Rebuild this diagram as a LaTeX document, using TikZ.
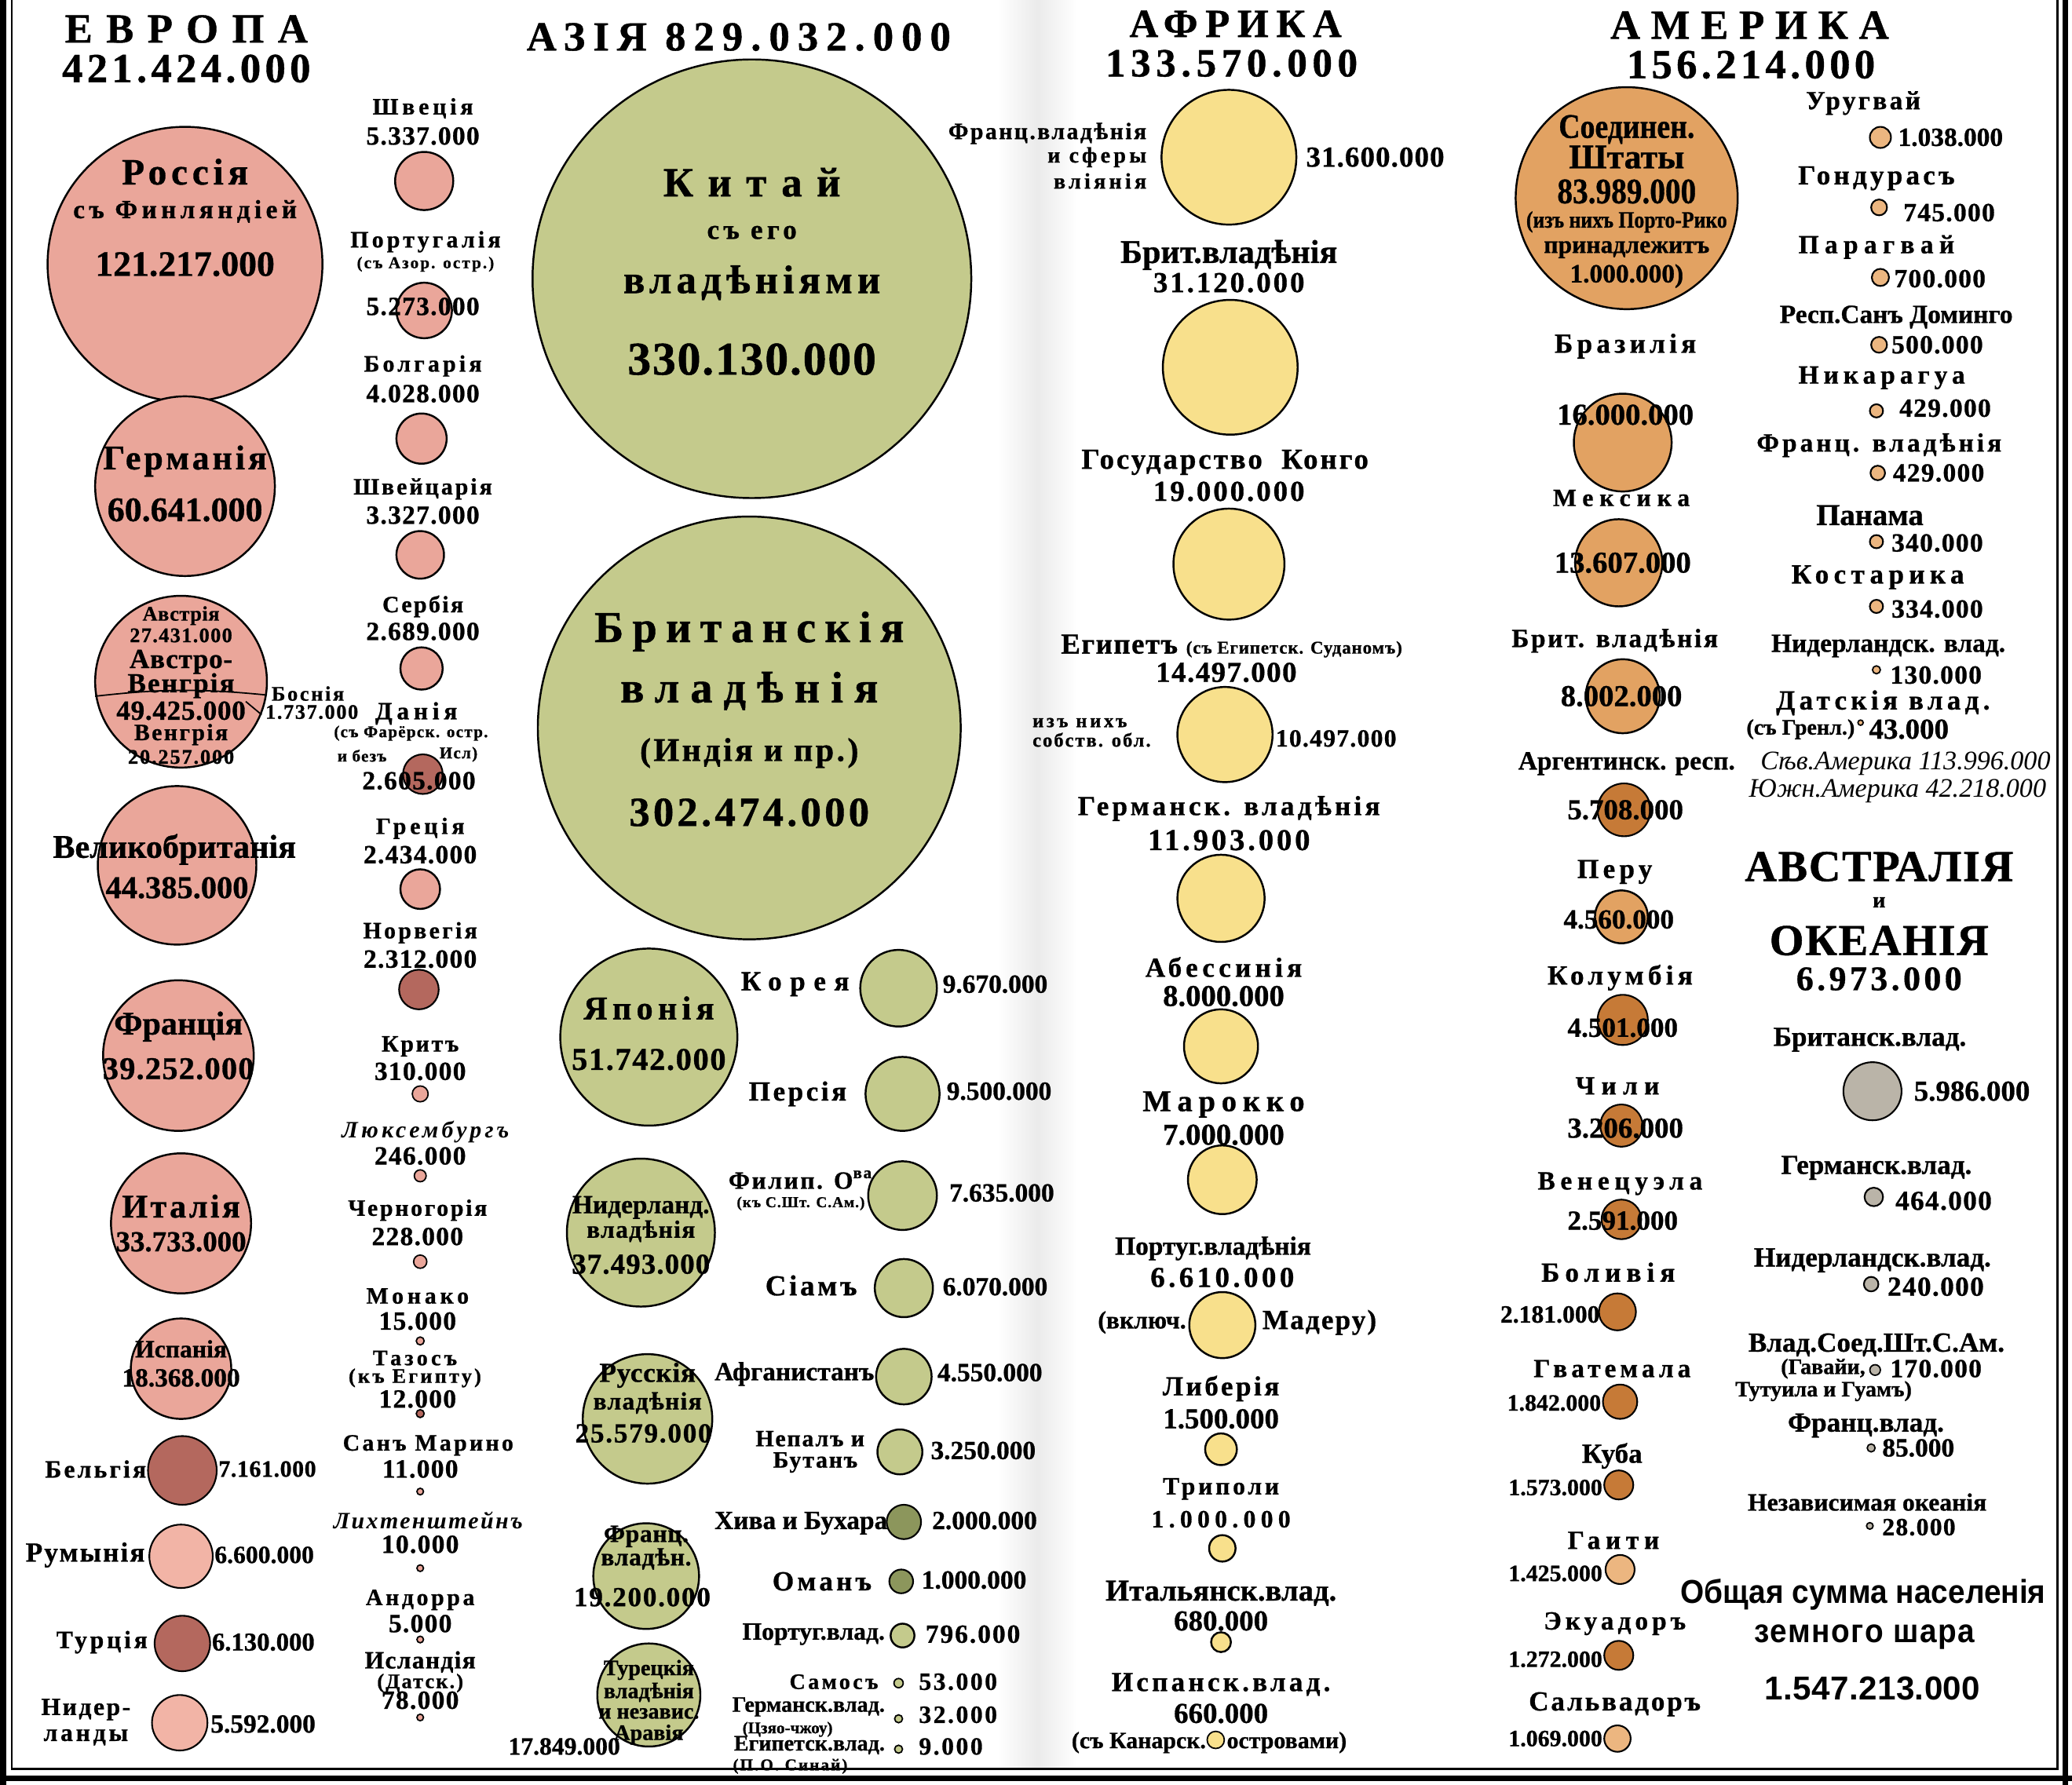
\documentclass[tikz,border=0pt]{standalone}
\usepackage{fontspec}
\usepackage{graphicx}
\usepackage{xcolor}
\usepackage{tikz}
\setmainfont{Liberation Serif}[BoldFeatures={FakeBold=0.8}]
\newfontfamily\sansf{Liberation Sans}

\definecolor{eupink}{RGB}{234,166,154}
\definecolor{eudark}{RGB}{180,104,94}
\definecolor{eulight}{RGB}{242,180,166}
\definecolor{asgreen}{RGB}{196,202,140}
\definecolor{asdark}{RGB}{140,150,92}
\definecolor{afyellow}{RGB}{248,224,140}
\definecolor{amorange}{RGB}{226,162,98}
\definecolor{amdark}{RGB}{198,122,55}
\definecolor{amlight}{RGB}{236,182,128}
\definecolor{augray}{RGB}{186,180,168}

\newcommand\ft[2]{\fontsize{#1}{#1}\selectfont\addfontfeature{LetterSpace=#2}}
\newcommand\cnd[1]{\scalebox{0.86}[1]{#1}}

\tikzset{
	every node/.style={inner sep=0pt, font=\bfseries},
	eu/.style={fill=eupink, draw=black, line width=0.7pt},
	eud/.style={fill=eudark, draw=black, line width=0.6pt},
	eul/.style={fill=eulight, draw=black, line width=0.6pt},
	as/.style={fill=asgreen, draw=black, line width=0.7pt},
	asd/.style={fill=asdark, draw=black, line width=0.6pt},
	af/.style={fill=afyellow, draw=black, line width=0.7pt},
	am/.style={fill=amorange, draw=black, line width=0.7pt},
	amd/.style={fill=amdark, draw=black, line width=0.6pt},
	aml/.style={fill=amlight, draw=black, line width=0.6pt},
	au/.style={fill=augray, draw=black, line width=0.6pt},
}

\begin{document}
\begin{tikzpicture}[x=0.01683cm, y=-0.01683cm]
	\useasboundingbox (0,0) rectangle (1568,1351);
	\shade[left color=white, right color=black!8] (755,0) rectangle (785,1339);
	\shade[left color=black!8, right color=white] (785,0) rectangle (815,1339);
	\draw[line width=2.4pt] (2.5,0) -- (2.5,1351);
	\draw[line width=0.7pt] (9,0) -- (9,1339) -- (1557,1339) -- (1557,0);
	\draw[line width=2pt] (0,1346) -- (1568,1346);
	\draw[line width=1.8pt] (1563,0) -- (1563,1351);

	\node (euh) at (141,22) {\ft{15}{33}ЕВРОПА};
	\node (eun) at (141,52) {\ft{15}{10}421.424.000};
	\node (ash) at (559,28) {\ft{15}{19}АЗІЯ 829.032.000};
	\node (afh) at (935,18) {\ft{14.5}{19}АФРИКА};
	\node (afn) at (932,48) {\ft{14.5}{13}133.570.000};
	\node (amh) at (1324,19) {\ft{15}{26}АМЕРИКА};
	\node (amn) at (1325,49) {\ft{15}{10}156.214.000};

	\filldraw[eu] (140,200) circle (104);
	\node (rus) at (140,130) {\ft{13.5}{12}Россія};
	\node (rusf) at (140,160) {\ft{9.5}{16}съ Финляндіей};
	\node (rusn) at (140,200) {\ft{13}{0}121.217.000};
	\filldraw[eu] (140,368) circle (68);
	\node (ger) at (140,349) {\ft{12.5}{9}Германія};
	\node (gern) at (140,386) {\ft{12.5}{0}60.641.000};
	\filldraw[eu] (137,516) circle (65);
	\draw[line width=0.5pt] (72,527) to[bend left=6] (201,526);
	\draw[line width=0.5pt] (186,531) -- (198,541);
	\node (aut) at (137,466) {\ft{7.5}{2}Австрія};
	\node (autn) at (137,481) {\ft{7.5}{5}27.431.000};
	\node (auh) at (137,501) {\ft{10}{2}Австро-};
	\node (auha) at (137,519) {\ft{10}{6}Венгрія};
	\node (auhn) at (137,538) {\ft{10}{2}49.425.000};
	\node (hun) at (137,556) {\ft{8.5}{8}Венгрія};
	\node (hunn) at (137,573) {\ft{7.5}{7}20.257.000};
	\node (bos) at (233,525) {\ft{7.5}{10}Боснія};
	\node (bosn) at (236,539) {\ft{7.5}{6}1.737.000};
	\filldraw[eu] (134,655) circle (60);
	\node (gb) at (132,643) {\ft{12}{0}Великобританія};
	\node (gbn) at (134,672) {\ft{11.5}{0}44.385.000};
	\filldraw[eu] (135,799) circle (57);
	\node (fra) at (135,777) {\ft{12}{0}Франція};
	\node (fran) at (135,809) {\ft{11.5}{3}39.252.000};
	\filldraw[eu] (137,926) circle (53);
	\node (ita) at (137,913) {\ft{12}{8}Италія};
	\node (itan) at (137,940) {\ft{10.5}{0}33.733.000};
	\filldraw[eu] (137,1036) circle (38);
	\node (spa) at (137,1021) {\ft{9}{0}Испанія};
	\node (span) at (137,1043) {\ft{9.5}{0}18.368.000};
	\filldraw[eud] (138,1113) circle (26);
	\node[anchor=east] (bel) at (111,1112) {\ft{9}{10}Бельгія};
	\node[anchor=west] (beln) at (165,1112) {\ft{8.5}{2}7.161.000};
	\filldraw[eul] (137,1178) circle (24);
	\node[anchor=east] (rom) at (110,1177) {\ft{10}{6}Румынія};
	\node[anchor=west] (romn) at (162,1177) {\ft{9}{0}6.600.000};
	\filldraw[eud] (138,1244) circle (21);
	\node[anchor=east] (tur) at (112,1243) {\ft{9}{12}Турція};
	\node[anchor=west] (turn) at (160,1243) {\ft{9.3}{0}6.130.000};
	\filldraw[eul] (136,1304) circle (21);
	\node (nl) at (65,1294) {\ft{9}{8}Нидер-};
	\node (nlb) at (65,1315) {\ft{9}{12}ланды};
	\node[anchor=west] (nln) at (159,1305) {\ft{9.5}{0}5.592.000};

	\filldraw[eu] (321,137) circle (22);
	\node (swe) at (320,82) {\ft{8.5}{16}Швеція};
	\node (swen) at (320,103) {\ft{9.5}{4}5.337.000};
	\filldraw[eu] (321,235) circle (21);
	\node (por) at (322,183) {\ft{8.5}{14}Португалія};
	\node (porb) at (322,200) {\ft{6}{10}(съ Азор. остр.)};
	\node (porn) at (320,232) {\ft{9.5}{4}5.273.000};
	\filldraw[eu] (319,332) circle (19);
	\node (bul) at (320,277) {\ft{8.5}{14}Болгарія};
	\node (buln) at (320,298) {\ft{9.5}{4}4.028.000};
	\filldraw[eu] (318,420) circle (18);
	\node (sui) at (320,370) {\ft{8.5}{10}Швейцарія};
	\node (suin) at (320,390) {\ft{9.5}{4}3.327.000};
	\filldraw[eu] (319,506) circle (16);
	\node (ser) at (320,459) {\ft{8.5}{8}Сербія};
	\node (sern) at (320,478) {\ft{9.5}{4}2.689.000};
	\filldraw[eud] (320,586) circle (15);
	\node (den) at (315,540) {\ft{9}{18}Данія};
	\node (denb) at (311,555) {\ft{6}{6}(съ Фарёрск. остр.};
	\node (denc) at (274,572) {\ft{6}{6}и безъ};
	\node (dend) at (347,571) {\ft{6}{6}Исл)};
	\node (denn) at (317,591) {\ft{9.5}{4}2.605.000};
	\filldraw[eu] (318,673) circle (15);
	\node (gre) at (318,627) {\ft{8.5}{16}Греція};
	\node (gren) at (318,647) {\ft{9.5}{4}2.434.000};
	\filldraw[eud] (317,749) circle (15);
	\node (nor) at (318,706) {\ft{8.5}{11}Норвегія};
	\node (norn) at (318,726) {\ft{9.5}{4}2.312.000};
	\filldraw[eu, line width=0.5pt] (318,828) circle (6);
	\node (cre) at (318,792) {\ft{8.5}{9}Критъ};
	\node (cren) at (318,811) {\ft{9.5}{4}310.000};
	\filldraw[eu, line width=0.5pt] (318,890) circle (4.5);
	\node (lux) at (322,857) {\ft{8.5}{14}\itshape Люксембургъ};
	\node (luxn) at (318,875) {\ft{9.5}{4}246.000};
	\filldraw[eu, line width=0.5pt] (318,955) circle (5);
	\node (mne) at (316,916) {\ft{8.5}{9}Черногорія};
	\node (mnen) at (316,936) {\ft{9.5}{4}228.000};
	\filldraw[eu, line width=0.5pt] (318,1015) circle (3);
	\node (mon) at (316,981) {\ft{8.5}{16}Монако};
	\node (monn) at (316,1000) {\ft{9.5}{4}15.000};
	\filldraw[eud, line width=0.5pt] (318,1070) circle (3);
	\node (tha) at (314,1028) {\ft{8}{15}Тазосъ};
	\node (thab) at (314,1043) {\ft{7.5}{12}(къ Египту)};
	\node (than) at (316,1059) {\ft{9.5}{4}12.000};
	\filldraw[eu, line width=0.5pt] (318,1129) circle (2.5);
	\node (smr) at (324,1094) {\ft{8.5}{11}Санъ Марино};
	\node (smrn) at (318,1112) {\ft{9.5}{4}11.000};
	\filldraw[eu, line width=0.5pt] (318,1187) circle (2.5);
	\node (lie) at (324,1151) {\ft{8.5}{8}\itshape Лихтенштейнъ};
	\node (lien) at (318,1169) {\ft{9.5}{4}10.000};
	\filldraw[eu, line width=0.5pt] (318,1241) circle (2.5);
	\node (and) at (318,1211) {\ft{8.5}{12}Андорра};
	\node (andn) at (318,1229) {\ft{9.5}{4}5.000};
	\filldraw[eu, line width=0.5pt] (318,1300) circle (2.5);
	\node (isl) at (318,1258) {\ft{9}{4}Исландія};
	\node (islb) at (318,1274) {\ft{7.5}{8}(Датск.)};
	\node (isln) at (318,1287) {\ft{9.5}{4}78.000};

	\filldraw[as] (569,211) circle (166);
	\node (chn) at (569,138) {\ft{15}{35}Китай};
	\node (chnb) at (569,176) {\ft{10}{15}съ его};
	\node (chnc) at (569,214) {\ft{14.5}{12}владѣніями};
	\node (chnn) at (569,272) {\ft{17}{3}330.130.000};
	\filldraw[as] (567,551) circle (160);
	\node (bri) at (567,478) {\ft{16}{20}Британскія};
	\node (brib) at (567,523) {\ft{16}{25}владѣнія};
	\node (bric) at (567,570) {\ft{12}{8}(Индія и пр.)};
	\node (brin) at (567,615) {\ft{15}{8}302.474.000};
	\filldraw[as] (491,785) circle (67);
	\node (jap) at (491,763) {\ft{12}{15}Японія};
	\node (japn) at (491,802) {\ft{11.5}{4}51.742.000};
	\filldraw[as] (485,933) circle (56);
	\node (dut) at (485,914) {\ft{9.5}{0}Нидерланд.};
	\node (dutb) at (485,932) {\ft{9}{4}владѣнія};
	\node (dutn) at (485,957) {\ft{10.5}{3}37.493.000};
	\filldraw[as] (490,1074) circle (49);
	\node (rsa) at (490,1041) {\ft{10}{2}Русскія};
	\node (rsab) at (490,1062) {\ft{9}{4}владѣнія};
	\node (rsan) at (487,1085) {\ft{10}{5}25.579.000};
	\filldraw[as] (489,1193) circle (40);
	\node (fas) at (489,1163) {\ft{9}{2}Франц.};
	\node (fasb) at (489,1180) {\ft{9}{2}владѣн.};
	\node (fasn) at (486,1209) {\ft{10}{5}19.200.000};
	\filldraw[as] (491,1283) circle (39);
	\node (tas) at (491,1264) {\ft{8}{0}Турецкія};
	\node (tasb) at (491,1281) {\ft{8}{0}владѣнія};
	\node (tasc) at (491,1297) {\ft{8}{0}и независ.};
	\node (tasd) at (491,1313) {\ft{8}{0}Аравія};
	\node (tasn) at (427,1322) {\ft{9}{0}17.849.000};

	\filldraw[as] (680,748) circle (29);
	\node[anchor=east] (kor) at (643,745) {\ft{10}{30}Корея};
	\node[anchor=west] (korn) at (713,745) {\ft{9.5}{0}9.670.000};
	\filldraw[as] (683,828) circle (28);
	\node[anchor=east] (per) at (641,828) {\ft{10}{10}Персія};
	\node[anchor=west] (pern) at (716,826) {\ft{9.5}{0}9.500.000};
	\filldraw[as] (683,905) circle (26);
	\node (phi) at (606,893) {\ft{9}{8}Филип. О\textsuperscript{ва}};
	\node (phib) at (606,911) {\ft{5.5}{5}(къ С.Шт. С.Ам.)};
	\node[anchor=west] (phin) at (718,903) {\ft{9.5}{0}7.635.000};
	\filldraw[as] (684,975) circle (22);
	\node[anchor=east] (sia) at (649,973) {\ft{10.5}{10}Сіамъ};
	\node[anchor=west] (sian) at (713,974) {\ft{9.5}{0}6.070.000};
	\filldraw[as] (684,1042) circle (21);
	\node[anchor=east] (afg) at (662,1040) {\ft{9.5}{0}Афганистанъ};
	\node[anchor=west] (afgn) at (709,1039) {\ft{9.5}{0}4.550.000};
	\filldraw[as] (681,1099) circle (17);
	\node (nep) at (613,1089) {\ft{8.5}{6}Непалъ и};
	\node (nepb) at (617,1107) {\ft{8.5}{6}Бутанъ};
	\node[anchor=west] (nepn) at (704,1098) {\ft{9.5}{0}3.250.000};
	\filldraw[asd] (684,1152) circle (13);
	\node[anchor=east] (khi) at (672,1153) {\ft{9.5}{0}Хива и Бухара};
	\node[anchor=west] (khin) at (705,1151) {\ft{9.5}{0}2.000.000};
	\filldraw[asd] (682,1197) circle (9);
	\node[anchor=east] (oma) at (660,1197) {\ft{10}{12}Оманъ};
	\node[anchor=west] (oman) at (697,1196) {\ft{9.5}{0}1.000.000};
	\filldraw[as] (683,1238) circle (9);
	\node[anchor=east] (pas) at (670,1237) {\ft{9}{0}Португ.влад.};
	\node[anchor=west] (pasn) at (700,1237) {\ft{9.5}{6}796.000};
	\filldraw[as, line width=0.5pt] (680,1274) circle (3.5);
	\node[anchor=east] (sam) at (665,1273) {\ft{8}{12}Самосъ};
	\node[anchor=west] (samn) at (695,1273) {\ft{9}{8}53.000};
	\filldraw[as, line width=0.5pt] (680,1301) circle (3);
	\node[anchor=east] (gas) at (670,1292) {\ft{8}{0}Германск.влад.};
	\node (gasb) at (596,1309) {\ft{6}{0}(Цзяо-чжоу)};
	\node[anchor=west] (gasn) at (695,1298) {\ft{9}{8}32.000};
	\filldraw[as, line width=0.5pt] (680,1324) circle (3);
	\node[anchor=east] (egs) at (670,1321) {\ft{8}{0}Египетск.влад.};
	\node (egsb) at (598,1337) {\ft{6}{10}(П.О. Синай)};
	\node[anchor=west] (egsn) at (695,1322) {\ft{9}{8}9.000};

	\filldraw[af] (930,119) circle (51);
	\node[anchor=east] (faf) at (868,101) {\ft{8.5}{8}Франц.владѣнія};
	\node[anchor=east] (fafb) at (868,119) {\ft{8}{15}и сферы};
	\node[anchor=east] (fafc) at (868,137) {\ft{8}{15}вліянія};
	\node[anchor=west] (fafn) at (988,119) {\ft{10.5}{3}31.600.000};
	\filldraw[af] (931,278) circle (51);
	\node (baf) at (930,193) {\ft{12}{0}Брит.владѣнія};
	\node (bafn) at (930,214) {\ft{10.5}{8}31.120.000};
	\filldraw[af] (930,427) circle (42);
	\node (con) at (927,350) {\ft{10.5}{8}Государство\ \ Конго};
	\node (conn) at (930,372) {\ft{10.5}{8}19.000.000};
	\filldraw[af] (927,556) circle (36);
	\node (egy) at (932,489) {\ft{10.5}{4}Египетъ \ft{6.5}{4}(съ Египетск. Суданомъ)};
	\node (egyn) at (928,509) {\ft{10.5}{4}14.497.000};
	\node[anchor=west] (egyb) at (781,547) {\ft{7}{15}изъ нихъ};
	\node[anchor=west] (egyc) at (781,560) {\ft{7}{8}собств. обл.};
	\node[anchor=west] (egyd) at (965,559) {\ft{9}{4}10.497.000};
	\filldraw[af] (924,680) circle (33);
	\node (gaf) at (930,612) {\ft{10}{12}Германск. владѣнія};
	\node (gafn) at (930,636) {\ft{11}{10}11.903.000};
	\filldraw[af] (924,792) circle (28);
	\node (abe) at (926,732) {\ft{10}{15}Абессинія};
	\node (aben) at (926,754) {\ft{11}{0}8.000.000};
	\filldraw[af] (925,893) circle (26);
	\node (mar) at (926,836) {\ft{11}{20}Марокко};
	\node (marn) at (926,859) {\ft{11}{0}7.000.000};
	\filldraw[af] (925,1003) circle (25);
	\node (paf) at (918,945) {\ft{9.5}{0}Португ.владѣнія};
	\node (pafn) at (925,967) {\ft{10.5}{12}6.610.000};
	\node[anchor=east] (pafb) at (898,1001) {\ft{9}{0}(включ.};
	\node[anchor=west] (pafc) at (955,1001) {\ft{10}{6}Мадеру)};
	\filldraw[af] (924,1097) circle (12);
	\node (lib) at (924,1051) {\ft{10}{10}Либерія};
	\node (libn) at (924,1074) {\ft{10.5}{0}1.500.000};
	\filldraw[af] (925,1172) circle (10);
	\node (tri) at (924,1127) {\ft{9}{12}Триполи};
	\node (trin) at (924,1150) {\ft{9}{20}1.000.000};
	\filldraw[af] (924,1243) circle (7.5);
	\node (iaf) at (924,1206) {\ft{11}{0}Итальянск.влад.};
	\node (iafn) at (924,1227) {\ft{10.5}{0}680.000};
	\filldraw[af, line width=0.5pt] (920,1317) circle (6.5);
	\node (saf) at (924,1275) {\ft{10}{12}Испанск.влад.};
	\node (safn) at (924,1297) {\ft{10.5}{0}660.000};
	\node[anchor=east] (safb) at (913,1319) {\ft{8.5}{0}(съ Канарск.};
	\node[anchor=west] (safc) at (928,1319) {\ft{8.5}{0}островами)};

	\filldraw[am] (1231,150) circle (84);
	\node (usa) at (1231,98) {\cnd{\ft{12.5}{0}Соединен.}};
	\node (usab) at (1231,119) {\ft{12.5}{0}Штаты};
	\node (usan) at (1231,145) {\cnd{\ft{13}{0}83.989.000}};
	\node (usac) at (1231,168) {\cnd{\ft{8.5}{0}(изъ нихъ Порто-Рико}};
	\node (usad) at (1231,189) {\ft{9}{0}принадлежитъ};
	\node (usae) at (1231,209) {\ft{9.5}{0}1.000.000)};
	\filldraw[am] (1228,335) circle (37);
	\node (bra) at (1230,262) {\ft{10}{15}Бразилія};
	\node (bran) at (1230,314) {\ft{11}{0}16.000.000};
	\filldraw[am] (1225,426) circle (33);
	\node (mex) at (1227,377) {\ft{9}{25}Мексика};
	\node (mexn) at (1228,426) {\ft{11}{0}13.607.000};
	\filldraw[am] (1228,527) circle (28);
	\node (bam) at (1222,485) {\ft{9.5}{8}Брит. владѣнія};
	\node (bamn) at (1227,527) {\ft{11}{0}8.002.000};
	\filldraw[amd] (1229,613) circle (20);
	\node (arg) at (1231,578) {\ft{9.5}{0}Аргентинск. респ.};
	\node (argn) at (1230,613) {\ft{10.5}{0}5.708.000};
	\filldraw[am] (1227,694) circle (20);
	\node (peru) at (1222,660) {\ft{10}{15}Перу};
	\node (perun) at (1225,696) {\ft{10}{0}4.560.000};
	\filldraw[amd] (1228,772) circle (19);
	\node (col) at (1226,740) {\ft{10}{15}Колумбія};
	\node (coln) at (1228,778) {\ft{10}{0}4.501.000};
	\filldraw[amd] (1227,852) circle (16);
	\node (chi) at (1224,822) {\ft{9.5}{25}Чили};
	\node (chin) at (1230,854) {\ft{10.5}{0}3.206.000};
	\filldraw[amd] (1227,923) circle (15);
	\node (ven) at (1226,896) {\ft{9.5}{20}Венецуэла};
	\node (venn) at (1228,924) {\ft{10}{0}2.591.000};
	\filldraw[amd] (1224,993) circle (14);
	\node (bol) at (1217,963) {\ft{10}{20}Боливія};
	\node[anchor=east] (boln) at (1211,995) {\ft{9}{0}2.181.000};
	\filldraw[amd] (1226,1061) circle (13);
	\node (gua) at (1220,1036) {\ft{9.5}{15}Гватемала};
	\node[anchor=east] (guan) at (1212,1062) {\ft{8.5}{0}1.842.000};
	\filldraw[amd] (1225,1124) circle (11);
	\node (cub) at (1220,1102) {\ft{10}{0}Куба};
	\node[anchor=east] (cubn) at (1213,1126) {\ft{8.5}{0}1.573.000};
	\filldraw[aml] (1226,1188) circle (11);
	\node (hai) at (1221,1166) {\ft{9.5}{20}Гаити};
	\node[anchor=east] (hain) at (1213,1191) {\ft{8.5}{0}1.425.000};
	\filldraw[amd] (1225,1253) circle (11);
	\node (ecu) at (1222,1229) {\ft{9.5}{15}Экуадоръ};
	\node[anchor=east] (ecun) at (1213,1256) {\ft{8.5}{0}1.272.000};
	\filldraw[aml] (1224,1316) circle (10);
	\node (sal) at (1222,1290) {\ft{10}{8}Сальвадоръ};
	\node[anchor=east] (saln) at (1213,1316) {\ft{8.5}{0}1.069.000};

	\filldraw[aml] (1423,104) circle (8);
	\node (uru) at (1410,78) {\ft{9.5}{10}Уругвай};
	\node[anchor=west] (urun) at (1436,104) {\ft{9.5}{0}1.038.000};
	\filldraw[aml] (1422,157) circle (6);
	\node (hon) at (1420,135) {\ft{10}{12}Гондурасъ};
	\node[anchor=west] (honn) at (1440,161) {\ft{9.5}{4}745.000};
	\filldraw[aml] (1423,210) circle (6.5);
	\node (par) at (1420,187) {\ft{9.5}{22}Парагвай};
	\node[anchor=west] (parn) at (1433,211) {\ft{9.5}{4}700.000};
	\filldraw[aml] (1422,261) circle (6);
	\node (dom) at (1435,240) {\ft{9.5}{0}Респ.Санъ Доминго};
	\node[anchor=west] (domn) at (1431,261) {\ft{9.5}{4}500.000};
	\filldraw[aml] (1420,311) circle (5);
	\node (nic) at (1424,286) {\ft{9.5}{18}Никарагуа};
	\node[anchor=west] (nicn) at (1437,309) {\ft{9.5}{4}429.000};
	\filldraw[aml] (1421,358) circle (5.5);
	\node (fam) at (1422,337) {\ft{9.5}{12}Франц. владѣнія};
	\node[anchor=west] (famn) at (1432,358) {\ft{9.5}{4}429.000};
	\filldraw[aml] (1420,410) circle (5);
	\node (pan) at (1415,390) {\ft{11}{0}Панама};
	\node[anchor=west] (pann) at (1431,411) {\ft{9.5}{4}340.000};
	\filldraw[aml] (1420,459) circle (5);
	\node (cos) at (1421,437) {\ft{10}{18}Костарика};
	\node[anchor=west] (cosn) at (1431,461) {\ft{9.5}{4}334.000};
	\filldraw[aml, line width=0.5pt] (1420,507) circle (3);
	\node (nam) at (1429,489) {\ft{9.5}{0}Нидерландск. влад.};
	\node[anchor=west] (namn) at (1430,511) {\ft{9.5}{4}130.000};
	\node (dam) at (1425,532) {\ft{10}{15}Датскія влад.};
	\filldraw[aml, line width=0.5pt] (1408,547) circle (2);
	\node[anchor=east] (damb) at (1404,552) {\ft{8}{0}(съ Гренл.)};
	\node[anchor=west] (damn) at (1414,552) {\ft{10.5}{0}43.000};
	\node (nsum) at (1442,578) {\mdseries\itshape\ft{9.7}{0}Сѣв.Америка 113.996.000};
	\node (ssum) at (1436,599) {\mdseries\itshape\ft{9.7}{0}Южн.Америка 42.218.000};

	\node (aus) at (1422,656) {\ft{16}{3}АВСТРАЛІЯ};
	\node (ausb) at (1422,683) {\ft{8}{0}и};
	\node (ausc) at (1422,712) {\ft{16}{3}ОКЕАНІЯ};
	\node (ausn) at (1422,741) {\ft{12.5}{10}6.973.000};
	\filldraw[au] (1417,826) circle (22);
	\node (bau) at (1415,787) {\ft{10}{0}Британск.влад.};
	\node[anchor=west] (baun) at (1448,826) {\ft{10.5}{0}5.986.000};
	\filldraw[au] (1418,906) circle (7);
	\node (gau) at (1420,884) {\ft{10}{0}Германск.влад.};
	\node[anchor=west] (gaun) at (1434,909) {\ft{10}{4}464.000};
	\filldraw[au] (1416,972) circle (5.5);
	\node (nau) at (1417,954) {\ft{10}{0}Нидерландск.влад.};
	\node[anchor=west] (naun) at (1428,974) {\ft{10}{4}240.000};
	\node (uau) at (1420,1018) {\ft{10}{0}Влад.Соед.Шт.С.Ам.};
	\filldraw[au, line width=0.5pt] (1419,1037) circle (4);
	\node[anchor=east] (uaub) at (1412,1036) {\ft{8}{0}(Гавайи,};
	\node[anchor=west] (uaun) at (1430,1036) {\ft{9.5}{4}170.000};
	\node (uauc) at (1380,1053) {\ft{8}{0}Тутуила и Гуамъ)};
	\filldraw[au, line width=0.5pt] (1416,1096) circle (3);
	\node (fau) at (1412,1079) {\ft{10}{0}Франц.влад.};
	\node[anchor=west] (faun) at (1424,1096) {\ft{9.5}{0}85.000};
	\filldraw[au, line width=0.5pt] (1415,1155) circle (2.5);
	\node (iau) at (1413,1137) {\ft{9}{0}Независимая океанія};
	\node[anchor=west] (iaun) at (1424,1156) {\ft{9}{4}28.000};

	\node (tot) at (1410,1207) {\scalebox{0.92}[1]{\sansf\ft{12}{0}Общая сумма населенія}};
	\node (totb) at (1411,1239) {\scalebox{0.92}[1]{\sansf\ft{12}{4}земного шара}};
	\node (totn) at (1417,1278) {\sansf\ft{12}{1}1.547.213.000};
\end{tikzpicture}
\end{document}
